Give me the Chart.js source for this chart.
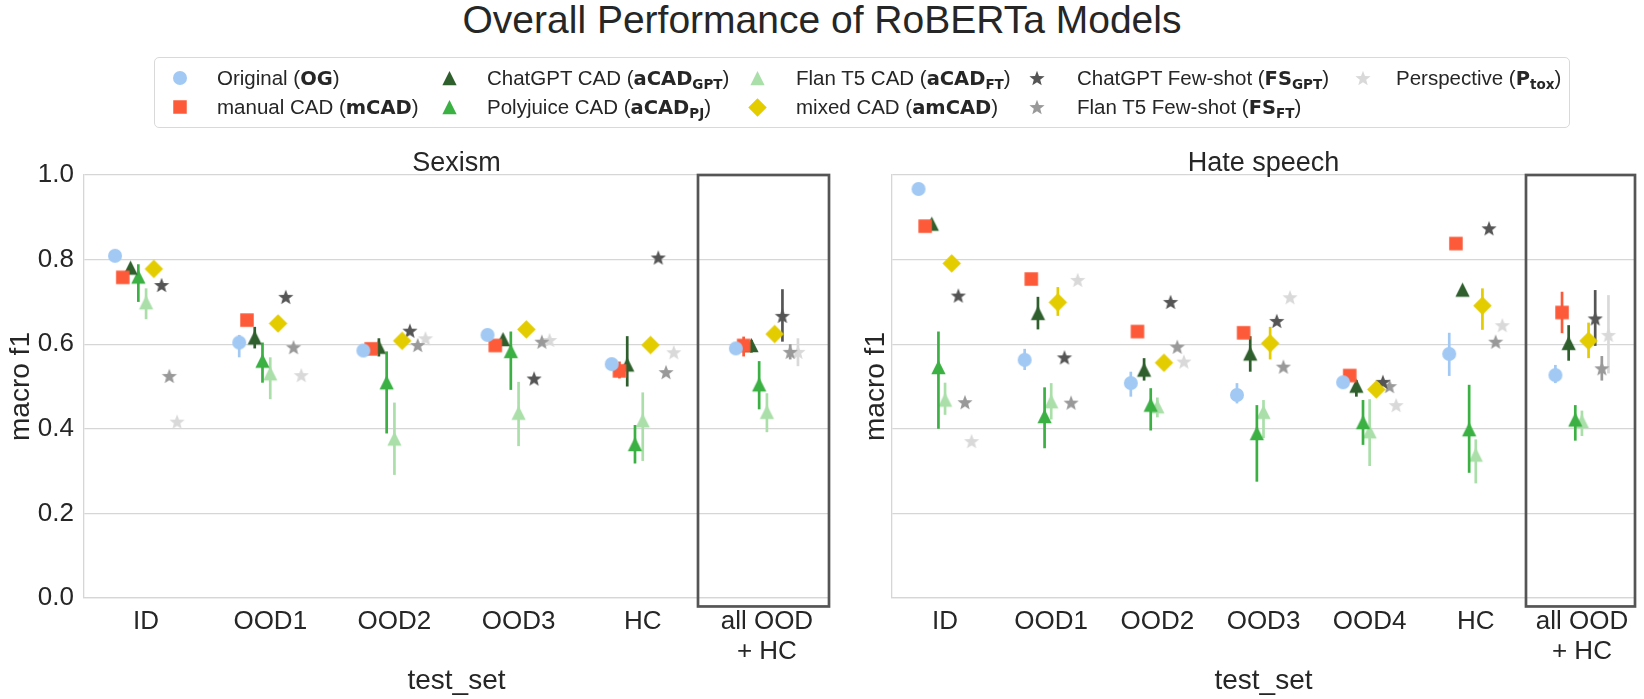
<!DOCTYPE html>
<html>
<head>
<meta charset="utf-8">
<script src="https://cdn.jsdelivr.net/npm/chart.js@4"></script>
<style>
html,body{margin:0;padding:0;background:#fff;}
#wrap{position:relative;width:1644px;height:699px;overflow:hidden;font-family:"Liberation Sans",Arial,sans-serif;color:#262626;}
#title{position:absolute;left:0;top:0px;width:1644px;text-align:center;font-size:39px;line-height:39px;white-space:nowrap;}
#legend{position:absolute;left:154px;top:57px;width:1416px;height:71px;border:1px solid #d9d9d9;border-radius:5px;box-sizing:border-box;}
.li{position:absolute;font-size:20.5px;line-height:24px;white-space:nowrap;}
.li b{font-family:"DejaVu Sans",sans-serif;font-weight:bold;font-size:19.5px;}
.li sub{font-size:13.5px;vertical-align:-4px;line-height:0;}
.mk{position:absolute;}
#c1{position:absolute;left:0;top:0;}
#c2{position:absolute;left:855px;top:0;}
</style>
</head>
<body>
<div id="wrap">
  <div id="title">Overall Performance of RoBERTa Models</div>
  <div id="legend"></div>
  <canvas id="c1" width="845" height="699"></canvas>
  <canvas id="c2" width="789" height="699"></canvas>
</div>
<script>
// ---------------- DATA ----------------
const seriesKeys   = ['OG','mCAD','aCAD_GPT','aCAD_PJ','aCAD_FT','amCAD','FS_GPT','FS_FT','P_tox'];
const seriesLabels = [
  'Original (<b>OG</b>)',
  'manual CAD (<b>mCAD</b>)',
  'ChatGPT CAD (<b>aCAD<sub>GPT</sub></b>)',
  'Polyjuice CAD (<b>aCAD<sub>PJ</sub></b>)',
  'Flan T5 CAD (<b>aCAD<sub>FT</sub></b>)',
  'mixed CAD (<b>amCAD</b>)',
  'ChatGPT Few-shot (<b>FS<sub>GPT</sub></b>)',
  'Flan T5 Few-shot (<b>FS<sub>FT</sub></b>)',
  'Perspective (<b>P<sub>tox</sub></b>)'
];
const sexismCategories = ['ID','OOD1','OOD2','OOD3','HC',['all OOD','+ HC']];
const hateCategories   = ['ID','OOD1','OOD2','OOD3','OOD4','HC',['all OOD','+ HC']];
const yTickValues = [0.0, 0.2, 0.4, 0.6, 0.8, 1.0];

// Sexism: mean macro f1 per test set (ID, OOD1, OOD2, OOD3, HC, all OOD + HC)
const sexOG      = [0.809, 0.604, 0.585, 0.622, 0.553, 0.590];
const sexMCAD    = [0.758, 0.657, 0.589, 0.597, 0.537, 0.597];
const sexGPT     = [0.780, 0.615, 0.593, 0.611, 0.551, 0.597];
const sexPJ      = [0.759, 0.560, 0.509, 0.583, 0.363, 0.504];
const sexFT      = [0.698, 0.530, 0.376, 0.437, 0.419, 0.439];
const sexAM      = [0.778, 0.649, 0.608, 0.635, 0.598, 0.624];
const sexFSGPT   = [0.740, 0.712, 0.632, 0.519, 0.805, 0.667];
const sexFSFT    = [0.525, 0.593, 0.598, 0.606, 0.534, 0.582];
const sexPTOX    = [0.417, 0.527, 0.614, 0.610, 0.581, 0.582];
// Sexism: error bars [low, high] (null = hidden behind marker)
const sexOGErr    = [null, [0.569,0.622], null, null, null, null];
const sexMCADErr  = [null, null, null, null, [0.519,0.559], [0.571,0.618]];
const sexGPTErr   = [null, [0.590,0.641], [0.571,0.614], null, [0.500,0.619], [0.580,0.610]];
const sexPJErr    = [[0.700,0.789], [0.509,0.604], [0.389,0.583], [0.492,0.630], [0.318,0.409], [0.446,0.560]];
const sexFTErr    = [[0.659,0.732], [0.470,0.569], [0.291,0.462], [0.359,0.511], [0.324,0.486], [0.392,0.484]];
const sexAMErr    = [null, null, null, null, null, null];
const sexFSGPTErr = [null, null, null, null, null, [0.606,0.730]];
const sexFSFTErr  = [null, null, null, null, null, [0.564,0.600]];
const sexPTOXErr  = [null, null, null, null, null, [0.548,0.614]];

// Hate speech: (ID, OOD1, OOD2, OOD3, OOD4, HC, all OOD + HC)
const hateOG     = [0.967, 0.563, 0.508, 0.480, 0.510, 0.577, 0.527];
const hateMCAD   = [0.879, 0.754, 0.630, 0.627, 0.526, 0.838, 0.675];
const hateGPT    = [0.884, 0.673, 0.539, 0.577, 0.501, 0.728, 0.602];
const hatePJ     = [0.545, 0.429, 0.456, 0.389, 0.415, 0.398, 0.421];
const hateFT     = [0.468, 0.464, 0.452, 0.439, 0.393, 0.338, 0.417];
const hateAM     = [0.791, 0.699, 0.556, 0.602, 0.493, 0.691, 0.608];
const hateFSGPT  = [0.715, 0.569, 0.700, 0.655, 0.511, 0.874, 0.661];
const hateFSFT   = [0.463, 0.462, 0.594, 0.547, 0.501, 0.606, 0.543];
const hatePTOX   = [0.371, 0.752, 0.559, 0.711, 0.456, 0.645, 0.622];
const hateOGErr    = [null, [0.539,0.589], [0.476,0.535], [0.460,0.508], null, [0.525,0.627], [0.508,0.551]];
const hateMCADErr  = [null, null, null, null, null, null, [0.626,0.724]];
const hateGPTErr   = [null, [0.635,0.712], [0.514,0.567], [0.535,0.619], [0.476,0.515], null, [0.561,0.645]];
const hatePJErr    = [[0.400,0.630], [0.354,0.498], [0.396,0.496], [0.275,0.456], [0.362,0.468], [0.296,0.504], [0.372,0.456]];
const hateFTErr    = [[0.433,0.509], [0.422,0.508], [0.427,0.474], [0.378,0.468], [0.312,0.470], [0.271,0.375], [0.383,0.443]];
const hateAMErr    = [null, [0.667,0.735], null, [0.564,0.641], null, [0.634,0.732], [0.567,0.651]];
const hateFSGPTErr = [null, null, null, null, null, null, [0.596,0.728]];
const hateFSFTErr  = [null, null, null, null, null, null, [0.514,0.572]];
const hatePTOXErr  = [null, null, null, null, null, null, [0.531,0.716]];

// ---------------- STYLE ----------------
const seriesColors = ['#a1c9f4','#fd5a3a','#2e5f2c','#3bb043','#abdfaa','#e3cc00','#555555','#999999','#d9d9d9'];
const seriesShapes = ['circle','square','tri','tri','tri','diamond','star','star','star'];
const shapeSize    = {circle:14, square:13.5, tri:15, diamond:18.5, star:16};
const dodgeStep = 0.0625;
const FONT = '"Liberation Sans", Arial, sans-serif';
const TXT = '#262626';

function makeMarker(shape, color) {
  const size = shapeSize[shape];
  const s = Math.ceil(size) + 2;
  const c = document.createElement('canvas');
  c.width = s; c.height = s;
  const g = c.getContext('2d');
  g.fillStyle = color;
  const cx = s / 2, cy = s / 2, r = size / 2;
  g.beginPath();
  if (shape === 'circle') {
    g.arc(cx, cy, r, 0, Math.PI * 2);
  } else if (shape === 'square') {
    g.rect(cx - r, cy - r, size, size);
  } else if (shape === 'tri') {
    g.moveTo(cx, cy - r); g.lineTo(cx + r * 0.95, cy + r * 0.9); g.lineTo(cx - r * 0.95, cy + r * 0.9);
  } else if (shape === 'diamond') {
    g.moveTo(cx, cy - r); g.lineTo(cx + r, cy); g.lineTo(cx, cy + r); g.lineTo(cx - r, cy);
  } else if (shape === 'star') {
    const ri = r * 0.42;
    for (let i = 0; i < 10; i++) {
      const a = -Math.PI / 2 + i * Math.PI / 5;
      const rr = i % 2 === 0 ? r : ri;
      const px = cx + rr * Math.cos(a), py = cy + rr * Math.sin(a) + r * 0.1;
      if (i === 0) g.moveTo(px, py); else g.lineTo(px, py);
    }
  }
  g.closePath();
  g.fill();
  return c;
}
const markers = seriesShapes.map((sh, k) => makeMarker(sh, seriesColors[k]));

// ---------------- LEGEND (HTML) ----------------
const legendMarkerX = [180, 449, 757, 1037, 1363];
const legendTextX   = [217, 487, 796, 1077, 1396];
const legendRowY    = [78, 107];
(function buildLegend() {
  const wrap = document.getElementById('wrap');
  seriesLabels.forEach((lab, k) => {
    const col = Math.floor(k / 2), row = k % 2;
    const m = makeMarker(seriesShapes[k], seriesColors[k]);
    m.className = 'mk';
    m.style.left = (legendMarkerX[col] - m.width / 2) + 'px';
    m.style.top = (legendRowY[row] - m.height / 2) + 'px';
    wrap.appendChild(m);
    const d = document.createElement('div');
    d.className = 'li';
    d.innerHTML = lab;
    d.style.left = legendTextX[col] + 'px';
    d.style.top = (legendRowY[row] - 12) + 'px';
    wrap.appendChild(d);
  });
})();

// ---------------- PLUGINS ----------------
const errorBarPlugin = {
  id: 'errbars',
  beforeDatasetDraw(chart, args) {
    const ds = chart.data.datasets[args.index];
    if (!ds.errs) return;
    const y = chart.scales.y, ctx = chart.ctx;
    ctx.save();
    ctx.strokeStyle = ds.errColor;
    ctx.lineWidth = 2.7;
    ds.errs.forEach((e, i) => {
      if (!e) return;
      const px = args.meta.data[i].x;
      ctx.beginPath();
      ctx.moveTo(px, y.getPixelForValue(e[0]));
      ctx.lineTo(px, y.getPixelForValue(e[1]));
      ctx.stroke();
    });
    ctx.restore();
  }
};
const subTitlePlugin = {
  id: 'subTitle',
  afterDraw(chart, args, opts) {
    const {ctx, chartArea} = chart;
    ctx.save();
    ctx.font = '27px ' + FONT;
    ctx.fillStyle = TXT;
    ctx.textAlign = 'center';
    ctx.textBaseline = 'alphabetic';
    ctx.fillText(opts.text, (chartArea.left + chartArea.right) / 2, chartArea.top - 4);
    ctx.restore();
  }
};
const boxPlugin = {
  id: 'highlightBox',
  afterDraw(chart, args, opts) {
    const {ctx} = chart, x = chart.scales.x, y = chart.scales.y;
    const l = x.getPixelForValue(opts.from), r = x.getPixelForValue(opts.to);
    const t = y.getPixelForValue(opts.top), b = y.getPixelForValue(opts.bottom);
    ctx.save();
    ctx.strokeStyle = '#555555';
    ctx.lineWidth = 2.7;
    ctx.strokeRect(l, t, r - l, b - t);
    ctx.restore();
  }
};

// ---------------- CHARTS ----------------
function buildChart(id, cats, means, errs, cfg) {
  const n = cats.length, mid = (means.length - 1) / 2;
  const datasets = means.map((arr, k) => ({
    label: seriesKeys[k],
    data: arr.map((v, i) => ({x: i + (k - mid) * dodgeStep, y: v})),
    pointStyle: markers[k],
    pointRadius: 7,
    errs: errs[k],
    errColor: seriesColors[k]
  }));
  return new Chart(document.getElementById(id), {
    type: 'scatter',
    data: {datasets},
    plugins: [errorBarPlugin, subTitlePlugin, boxPlugin],
    options: {
      responsive: false,
      animation: false,
      devicePixelRatio: 1,
      layout: {padding: {top: 175, right: cfg.padRight, bottom: 0, left: 0}},
      plugins: {
        legend: {display: false},
        tooltip: {enabled: false},
        subTitle: {text: cfg.title},
        highlightBox: {from: n - 1 - cfg.boxLeft, to: n - 0.5, top: 1.0, bottom: -0.02}
      },
      scales: {
        x: {
          type: 'linear', min: -0.5, max: n - 0.5,
          afterBuildTicks: s => { s.ticks = cats.map((c, i) => ({value: i})); },
          ticks: {
            callback: v => cats[Math.round(v)],
            font: {size: 26, family: FONT, lineHeight: 1.15},
            color: TXT, padding: 9, maxRotation: 0, autoSkip: false
          },
          grid: {display: false, drawTicks: false},
          border: {display: true, color: '#d6d6d6', width: 1.3},
          title: {display: true, text: 'test_set', font: {size: 28, family: FONT}, color: TXT, padding: {top: 0, bottom: 1}},
          afterFit: s => { s.height = 101; }
        },
        y: {
          min: 0, max: 1,
          afterBuildTicks: s => { s.ticks = yTickValues.map(v => ({value: v})); },
          ticks: {
            display: cfg.showYLabels,
            callback: v => v.toFixed(1),
            font: {size: 26, family: FONT}, color: TXT, padding: 10
          },
          grid: {color: '#d6d6d6', lineWidth: 1.3, drawTicks: false},
          border: {display: true, color: '#d6d6d6', width: 1.3},
          title: {display: true, text: 'macro f1', font: {size: 28, family: FONT}, color: TXT, padding: {top: 4, bottom: 0}},
          afterFit: s => { s.width = cfg.yWidth; }
        }
      }
    }
  });
}

buildChart('c1', sexismCategories,
  [sexOG, sexMCAD, sexGPT, sexPJ, sexFT, sexAM, sexFSGPT, sexFSFT, sexPTOX],
  [sexOGErr, sexMCADErr, sexGPTErr, sexPJErr, sexFTErr, sexAMErr, sexFSGPTErr, sexFSFTErr, sexPTOXErr],
  {title: 'Sexism', yWidth: 84, padRight: 16, showYLabels: true, boxLeft: 0.555});

buildChart('c2', hateCategories,
  [hateOG, hateMCAD, hateGPT, hatePJ, hateFT, hateAM, hateFSGPT, hateFSFT, hatePTOX],
  [hateOGErr, hateMCADErr, hateGPTErr, hatePJErr, hateFTErr, hateAMErr, hateFSGPTErr, hateFSFTErr, hatePTOXErr],
  {title: 'Hate speech', yWidth: 37, padRight: 9, showYLabels: false, boxLeft: 0.527});
</script>
</body>
</html>
